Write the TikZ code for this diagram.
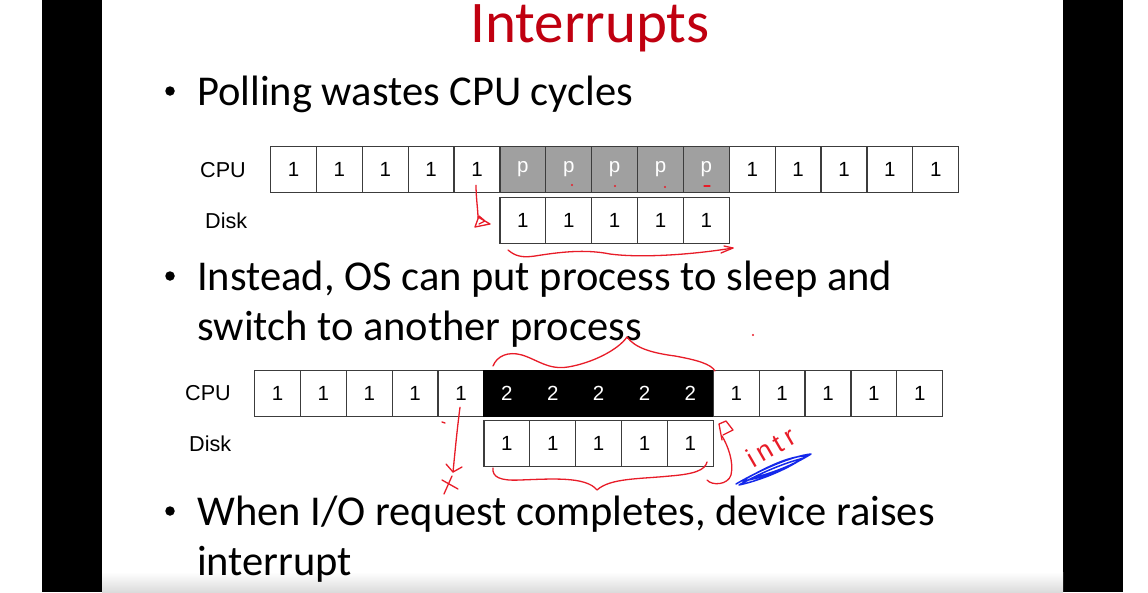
\documentclass[tikz,border=0pt]{standalone}
\usepackage{fontspec}
\setmainfont{Carlito}
\newfontfamily\arialfont{Liberation Sans}
\usetikzlibrary{calc}

\definecolor{titlered}{RGB}{192,0,16}
\definecolor{inkred}{RGB}{232,28,40}
\definecolor{inkblue}{RGB}{20,40,235}
\definecolor{pollgray}{RGB}{160,160,160}
\definecolor{boxline}{RGB}{60,60,60}

\begin{document}
\begin{tikzpicture}[x=1pt,y=-1pt,
  cell/.style={draw=boxline, line width=1.2pt, minimum width=45.87pt,
    minimum height=46pt, inner sep=0pt, anchor=north west,
    font=\arialfont\fontsize{20.5}{21}\selectfont},
  pollcell/.style={cell, fill=pollgray, text=white},
  busycell/.style={cell, fill=black, draw=black, text=white},
  rowlabel/.style={anchor=base west, inner sep=0pt, font=\arialfont\fontsize{21.6}{22}\selectfont},
  bodytext/.style={anchor=base west, inner sep=0pt, font=\fontsize{42.5}{44}\selectfont},
  bulletdot/.style={circle, fill=black, inner sep=0pt, minimum size=9.5pt},
  ink/.style={draw=inkred, line width=1.3pt, line cap=round, line join=round},
  blueink/.style={draw=inkblue, line width=1.5pt, line cap=round, line join=round}]

\useasboundingbox (0,0) rectangle (1148,592);

% page, side bars and the soft shadow at the foot of the slide
\fill[white] (0,0) rectangle (1148,592);
\fill[black] (42,0) rectangle (102,592);
\fill[black] (1063,0) rectangle (1123,592);
\shade[top color=white, bottom color=black!14] (102,572) rectangle (1063,592);

% title
\node[anchor=base, inner sep=0pt, text=titlered, font=\fontsize{59}{60}\selectfont]
  (title) at (590,42) {Interrupts};

% bullet points
\node[bulletdot] (d1) at (170,91) {};
\node[bodytext] (b1) at (197,105) {Polling wastes CPU cycles};
\node[bulletdot] (d2) at (170,276) {};
\node[bodytext] (b2) at (197,290) {Instead, OS can put process to sleep and};
\node[bodytext] (b2b) at (197,340) {switch to another process};
\node[bulletdot] (d3) at (170,511) {};
\node[bodytext] (b3) at (197,525) {When I/O request completes, device raises};
\node[bodytext] (b3b) at (197,575) {interrupt};

% ---- polling timeline ----
\node[rowlabel] (cpuA) at (200,177) {CPU};
\node[rowlabel] (diskA) at (205,228) {Disk};
\foreach \i in {1,...,5}
  \node[cell] (a\i) at ({270+(\i-1)*45.87},146) {1};
\foreach \i in {6,...,10}
  \node[pollcell] (a\i) at ({270+(\i-1)*45.87},146) {p};
\foreach \i in {11,...,15}
  \node[cell] (a\i) at ({270+(\i-1)*45.87},146) {1};
\foreach \i in {1,...,5}
  \node[cell] (ad\i) at ({499.35+(\i-1)*45.87},197) {1};

% ---- interrupt timeline ----
\node[rowlabel] (cpuB) at (185,400) {CPU};
\node[rowlabel] (diskB) at (189,451) {Disk};
\foreach \i in {1,...,5}
  \node[cell] (c\i) at ({254+(\i-1)*45.87},370) {1};
\foreach \i in {6,...,10}
  \node[busycell] (c\i) at ({254+(\i-1)*45.87},370) {2};
\foreach \i in {11,...,15}
  \node[cell] (c\i) at ({254+(\i-1)*45.87},370) {1};
\foreach \i in {1,...,5}
  \node[cell] (cd\i) at ({483.35+(\i-1)*45.87},420) {1};

% ---- pen notes on the polling timeline ----
\coordinate (pA) at ($(a5.south)+(-1,-8)$);
\draw[ink] (pA) .. controls (476,198) and (478,210) .. (478,218);
\draw[ink] (478,217) -- (490,224) -- (475,227) -- (479,216) -- (485,221) -- (479,224);
\draw[ink] (508,250) .. controls (515,256) and (522,258) .. (535,256)
  .. controls (560,252) and (585,249) .. (610,254)
  .. controls (640,258) and (690,255) .. (733,248);
\draw[ink] (721,253) -- (733,248) -- (724,246);
\foreach \p in {(572,185),(615,186),(665,187)}
  \fill[inkred] \p circle (1.2pt);
\draw[ink] (704,186) -- (710,186);

% ---- pen notes on the interrupt timeline ----
\draw[ink] (493,366) .. controls (497,356) and (508,351) .. (522,355)
  .. controls (538,360) and (548,370) .. (568,367)
  .. controls (592,363) and (618,350) .. (627,337)
  .. controls (635,348) and (652,353) .. (675,356)
  .. controls (697,360) and (711,364) .. (715,371);
\fill[inkred] (753,335) circle (1.1pt);

\coordinate (pB) at ($(c5.south)+(-1,-10)$);
\draw[ink] (pB) .. controls (457,430) and (455,452) .. (453,472);
\draw[ink] (446,464) -- (453,472) -- (462,467);
\draw[ink] (442,480) -- (458,489);
\draw[ink] (444,494) -- (452,476);
\draw[ink] (442,422) -- (445,423);

\draw[ink] (493,468) .. controls (492,477) and (500,481) .. (520,480)
  .. controls (550,479) and (586,476) .. (597,490)
  .. controls (610,478) and (640,479) .. (670,476)
  .. controls (695,474) and (705,470) .. (707,462);

\coordinate (intrTail) at (707,480);
\draw[ink] (intrTail) .. controls (712,486) and (728,485) .. (731,475)
  .. controls (734,462) and (728,446) .. (722,436);
\draw[ink] (722,440) -- (719,424) -- (726,421) -- (733,430) -- (723,435);
\node[text=inkred, rotate=30, inner sep=0pt,
  font=\arialfont\fontsize{27}{27}\selectfont\addfontfeature{LetterSpace=18}]
  (intr) at (771,447) {intr};
\draw[blueink] (736,484) .. controls (760,470) and (792,456) .. (811,454)
  .. controls (795,464) and (766,478) .. (742,481)
  .. controls (768,466) and (790,456) .. (806,456)
  .. controls (790,468) and (762,480) .. (739,485)
  .. controls (766,470) and (788,462) .. (804,458)
  .. controls (790,466) and (770,474) .. (752,478);
\end{tikzpicture}
\end{document}
